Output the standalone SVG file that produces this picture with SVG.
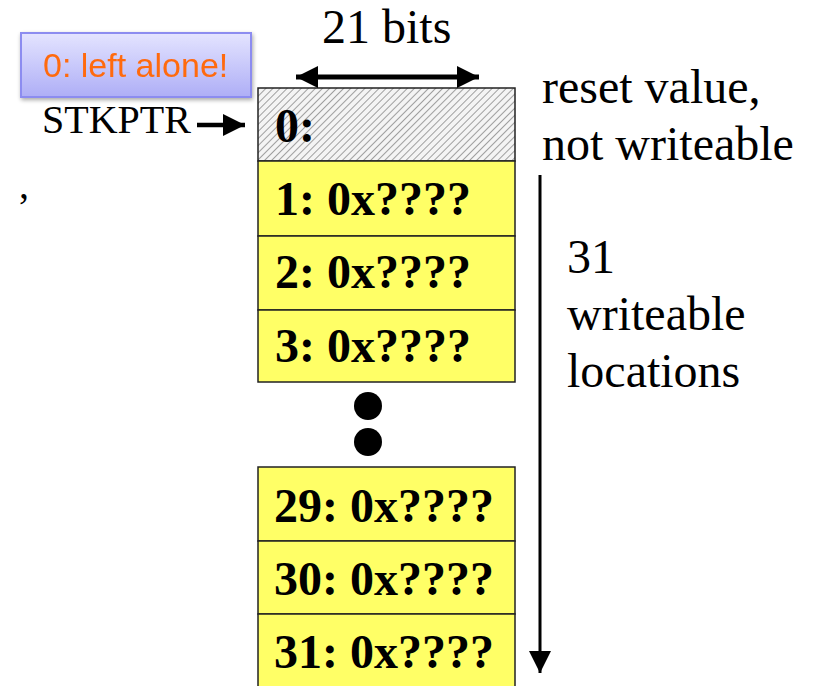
<svg xmlns="http://www.w3.org/2000/svg" width="816" height="686" viewBox="0 0 816 686">
<defs>
  <pattern id="hatch" patternUnits="userSpaceOnUse" width="5" height="5" patternTransform="rotate(45)">
    <rect width="5" height="5" fill="#f4f4f4"/>
    <line x1="0" y1="0" x2="0" y2="5" stroke="#8a8a8a" stroke-width="1.6"/>
  </pattern>
  <linearGradient id="tip" x1="0" y1="0" x2="0" y2="1">
    <stop offset="0" stop-color="#e4e4ff"/>
    <stop offset="1" stop-color="#aeaef6"/>
  </linearGradient>
  <filter id="shadow" x="-10%" y="-20%" width="120%" height="150%">
    <feGaussianBlur in="SourceAlpha" stdDeviation="2"/>
    <feOffset dx="1" dy="2"/>
    <feComponentTransfer><feFuncA type="linear" slope="0.35"/></feComponentTransfer>
    <feMerge><feMergeNode/><feMergeNode in="SourceGraphic"/></feMerge>
  </filter>
  <marker id="ah" viewBox="0 0 20 20" refX="20" refY="10" markerWidth="22" markerHeight="22" markerUnits="userSpaceOnUse" orient="auto-start-reverse">
    <path d="M0,0 L20,10 L0,20 z" fill="#000"/>
  </marker>
</defs>
<style>
  .serif { font-family: "Liberation Serif", "Times New Roman", serif; fill: #000; }
  .cell { stroke: #222; stroke-width: 1.5; }
  .yel { fill: #ffff66; }
  .lbl { font-family: "Liberation Serif", "Times New Roman", serif; font-weight: bold; font-size: 48px; fill: #000; }
  .big { font-size: 48px; }
</style>
<rect width="816" height="686" fill="#fff"/>

<!-- stray fragment at left edge -->
<text class="serif" x="19" y="198" font-size="40">,</text>

<g id="label-21bits">
  <text class="serif big" x="322" y="43">21 bits</text>
</g>

<g id="tooltip" filter="url(#shadow)">
  <rect x="21" y="33" width="230" height="64" fill="url(#tip)" stroke="#8c8cf0" stroke-width="2"/>
  <text x="43" y="77" font-family="'Liberation Sans', Arial, sans-serif" font-size="34" fill="#ff6a10">0: left alone!</text>
</g>

<g id="stkptr">
  <text class="serif" x="42" y="133" font-size="40">STKPTR</text>
</g>

<g id="row0">
  <rect class="cell" x="258" y="88" width="257" height="73" fill="url(#hatch)"/>
  <text class="lbl" x="275" y="142">0:</text>
</g>
<g id="row1">
  <rect class="cell yel" x="258" y="161" width="257" height="75"/>
  <text class="lbl" x="275" y="215">1: 0x????</text>
</g>
<g id="row2">
  <rect class="cell yel" x="258" y="236" width="257" height="74"/>
  <text class="lbl" x="275" y="288">2: 0x????</text>
</g>
<g id="row3">
  <rect class="cell yel" x="258" y="310" width="257" height="72"/>
  <text class="lbl" x="275" y="362">3: 0x????</text>
</g>
<g id="dots">
  <circle cx="368" cy="406" r="14" fill="#000"/>
  <circle cx="368" cy="442" r="14" fill="#000"/>
</g>
<g id="row29">
  <rect class="cell yel" x="258" y="467" width="257" height="74"/>
  <text class="lbl" x="274" y="522">29: 0x????</text>
</g>
<g id="row30">
  <rect class="cell yel" x="258" y="541" width="257" height="73"/>
  <text class="lbl" x="274" y="595">30: 0x????</text>
</g>
<g id="row31">
  <rect class="cell yel" x="258" y="614" width="257" height="76"/>
  <text class="lbl" x="274" y="668">31: 0x????</text>
</g>

<g id="reset-label">
  <text class="serif big" x="542" y="103">reset value,</text>
  <text class="serif big" x="542" y="160">not writeable</text>
</g>
<g id="writeable-label">
  <text class="serif big" x="567" y="273">31</text>
  <text class="serif big" x="567" y="330">writeable</text>
  <text class="serif big" x="567" y="387">locations</text>
</g>

<g id="connectors" stroke="#000" fill="none">
  <line x1="296" y1="77" x2="479" y2="77" stroke-width="5" marker-start="url(#ah)" marker-end="url(#ah)"/>
  <line x1="197" y1="125" x2="245" y2="125" stroke-width="4.5" marker-end="url(#ah)"/>
  <line x1="540" y1="175" x2="540" y2="673" stroke-width="3" marker-end="url(#ah)"/>
</g>
</svg>
